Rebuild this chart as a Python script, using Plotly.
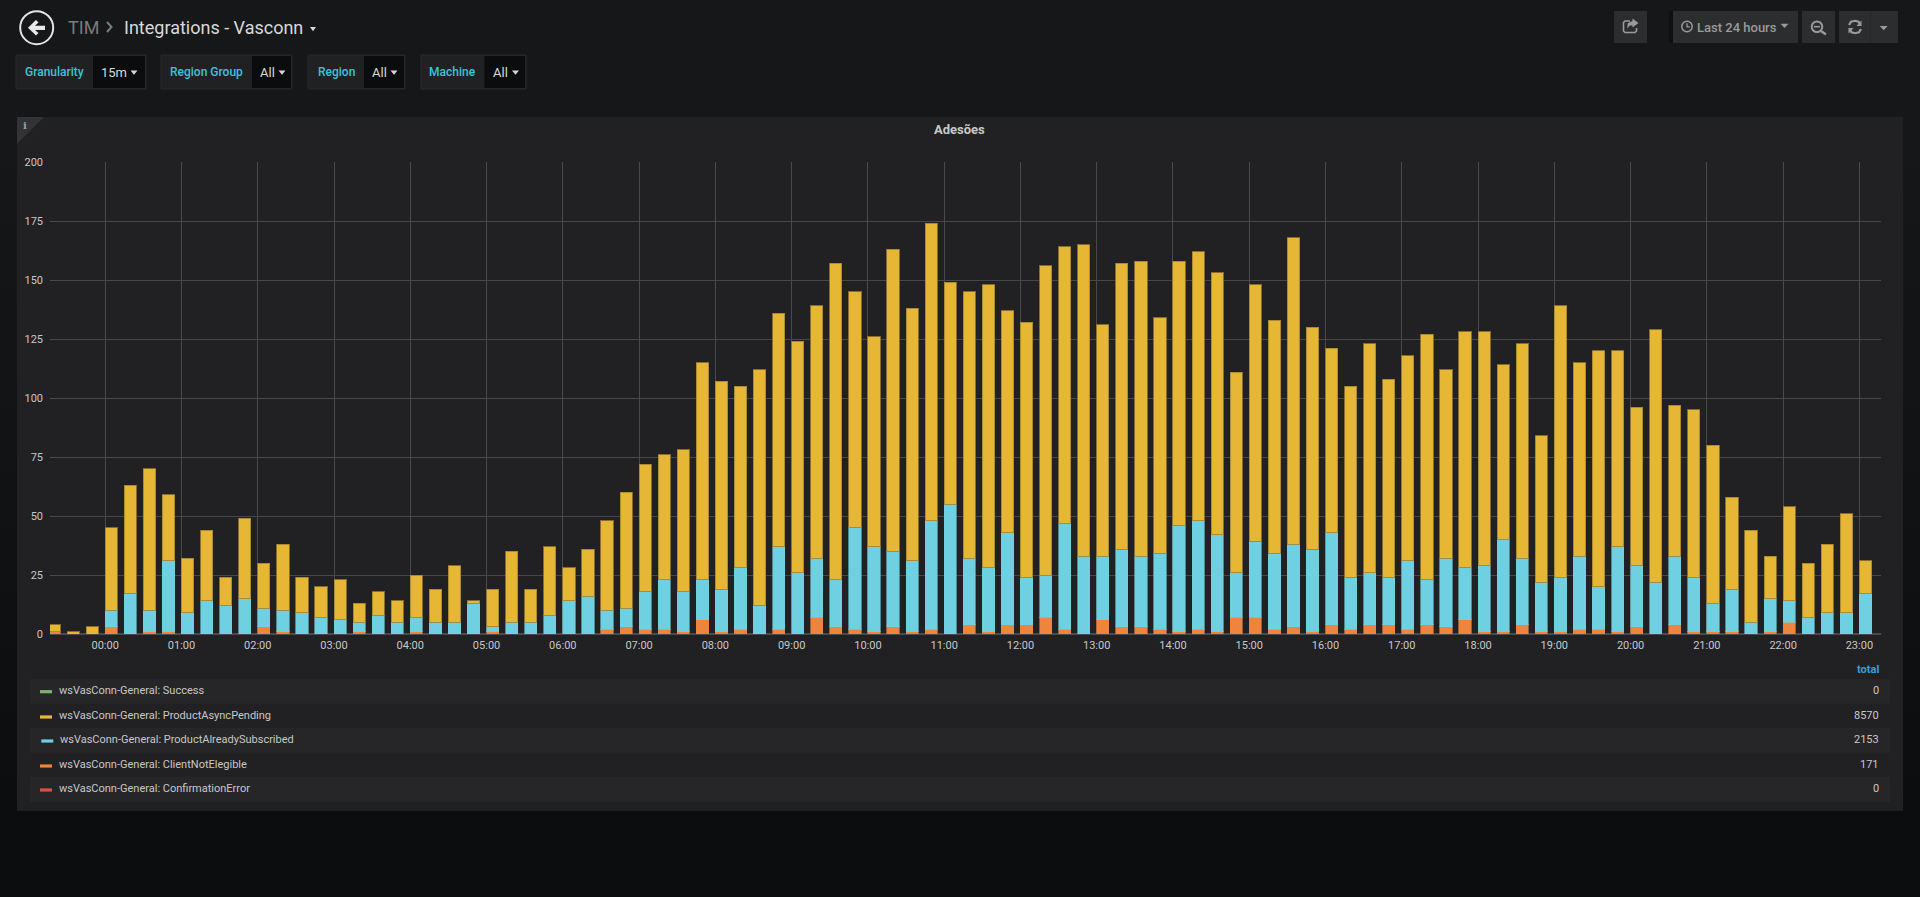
import pandas as pd
import plotly.graph_objects as go

# 15 minute buckets, bar start time, 23:15 the day before up to 23:00
times = pd.date_range("2018-05-09 23:15", "2018-05-10 23:00", freq="15min")

client_not_elegible = [1, 0, 0, 3, 0, 1, 1, 0, 0, 0, 0, 3, 1, 0, 0, 0, 1, 0, 0, 1, 0, 0, 0, 1,
                       0, 0, 0, 0, 0, 2, 3, 2, 2, 1, 6, 1, 2, 0, 2, 0, 7, 3, 2, 1, 3, 1, 2, 0,
                       4, 1, 4, 4, 7, 2, 0, 6, 3, 3, 2, 1, 2, 1, 7, 7, 2, 3, 1, 4, 2, 4, 4, 2,
                       4, 3, 6, 1, 1, 4, 1, 1, 2, 2, 1, 3, 0, 4, 1, 1, 1, 0, 1, 5, 0, 0, 0, 0]
already_subscribed = [0, 0, 0, 7, 17, 9, 30, 9, 14, 12, 15, 8, 9, 9, 7, 6, 4, 8, 5, 6, 5, 5, 13, 2,
                      5, 5, 8, 14, 16, 8, 8, 16, 21, 17, 17, 18, 26, 12, 35, 26, 25, 20, 43, 36, 32, 30, 46, 55,
                      28, 27, 39, 20, 18, 45, 33, 27, 33, 30, 32, 45, 46, 41, 19, 32, 32, 35, 35, 39, 22, 22, 20, 29,
                      19, 29, 22, 28, 39, 28, 21, 23, 31, 18, 36, 26, 22, 29, 23, 12, 18, 5, 14, 9, 7, 9, 9, 17]
async_pending = [3, 1, 3, 35, 46, 60, 28, 23, 30, 12, 34, 19, 28, 15, 13, 17, 8, 10, 9, 18, 14, 24, 1, 16,
                 30, 14, 29, 14, 20, 38, 49, 54, 53, 60, 92, 88, 77, 100, 99, 98, 107, 134, 100, 89, 128, 107, 126, 94,
                 113, 120, 94, 108, 131, 117, 132, 98, 121, 125, 100, 112, 114, 111, 85, 109, 99, 130, 94, 78, 81, 97, 84, 87,
                 104, 80, 100, 99, 74, 91, 62, 115, 82, 100, 83, 67, 107, 64, 71, 67, 39, 39, 18, 40, 23, 29, 42, 14]
success = [0] * len(times)
confirmation_error = [0] * len(times)

legend_names = ["wsVasConn-General: Success", "wsVasConn-General: ProductAsyncPending",
                "wsVasConn-General: ProductAlreadySubscribed", "wsVasConn-General: ClientNotElegible",
                "wsVasConn-General: ConfirmationError"]
legend_colors = ["#7EB26D", "#EAB839", "#6ED0E0", "#EF843C", "#E24D42"]
legend_totals = ["0", "8570", "2153", "171", "0"]
variables = ["Granularity", "Region Group", "Region", "Machine"]
variable_values = ["15m", "All", "All", "All"]

W, H = 1920, 897
L, R, T, B = 50, 1881, 162, 634


def px(x):
    return (x - L) / (R - L)


def py(y):
    return 1 - (y - T) / (B - T)


def pt(x, y):
    return f"{px(x):.5f} {py(y):.5f}"


shapes = []
notes = []


def rect(x0, y0, x1, y1, fill, line=None):
    shapes.append(dict(type="rect", layer="below", xref="paper", yref="paper", x0=px(x0), x1=px(x1), y0=py(y0), y1=py(y1),
                       fillcolor=fill, line=dict(color=line or fill, width=1 if line else 0)))


def path(points, fill=None, line=None, width=1.5, close=False):
    d = "M " + " L ".join(pt(*p) for p in points) + (" Z" if close else "")
    shapes.append(dict(type="path", layer="above", xref="paper", yref="paper", path=d, fillcolor=fill or "rgba(0,0,0,0)",
                       line=dict(color=line or "rgba(0,0,0,0)", width=width if line else 0)))


def circle(cx, cy, r, line, width=1.5):
    shapes.append(dict(type="circle", layer="above", xref="paper", yref="paper", x0=px(cx - r), x1=px(cx + r),
                       y0=py(cy + r), y1=py(cy - r), line=dict(color=line, width=width)))


def text(x, y, s, color, size=11, anchor="left", weight=400, family="Roboto"):
    notes.append(dict(xref="paper", yref="paper", x=px(x), y=py(y), text=s, showarrow=False, xanchor=anchor, yanchor="middle",
                      align=anchor, borderpad=0, font=dict(family=family, size=size, color=color, weight=weight)))


def caret(x, y, color, w=3.5):
    path([(x - w, y - 2), (x + w, y - 2), (x, y + 2.2)], fill=color, close=True)


# panel
rect(17, 117, 1903, 811, "#212124")
path([(17, 117), (44, 117), (17, 144)], fill="#333336", close=True)
text(24.5, 125, "i", "#9fa0a2", size=10, anchor="center", weight=700, family="DejaVu Serif")
text(959, 130, "Adesões", "#c8c9ca", size=13, anchor="center", weight=700)

# header
circle(36.7, 27.7, 16.5, "#e4e4e4", width=2)
path([(28, 27.7), (36, 20), (38.5, 22.5), (35, 25.7), (45, 25.7), (45, 30), (35, 30), (38.5, 33), (36, 35.5)],
     fill="#e8e8e8", close=True)
text(67, 27, "TIM", "#7b7b7b", size=18)
path([(107, 22), (111.5, 27), (107, 32)], line="#7b7b7b", width=2)
text(123, 27, "Integrations - Vasconn", "#d8d9da", size=18)
caret(313, 29, "#d8d9da", w=3)

# template variables
boxes = [(16, 93, 146), (161, 252, 292), (308, 364, 405), (421, 484.5, 526)]
value_x = [100, 259, 371, 492]
caret_x = [134, 282, 394, 515.5]
for i in range(4):
    x0, xm, x1 = boxes[i]
    rect(x0, 55, x1, 89, "#212124", line="#2a2b2d")
    rect(xm, 56, x1 - 1, 88, "#0b0c0e")
    text((x0 + xm) / 2, 72, variables[i], "#33c6d8", size=12, anchor="center", weight=500)
    text(value_x[i], 73, variable_values[i], "#d8d9da", size=13)
    caret(caret_x[i], 72.5, "#d8d9da")

# toolbar
rect(1669, 11, 1673, 43, "#0f1012")
rect(1614, 11, 1647, 43, "#2c2d2f")
rect(1673, 11, 1798, 43, "#2c2d2f")
rect(1802, 11, 1835, 43, "#2c2d2f")
rect(1839, 11, 1898, 43, "#2c2d2f")
rect(1870, 11, 1871, 43, "#262729")
path([(1630, 21), (1625, 21), (1623.5, 22.5), (1623.5, 31), (1625, 32.5), (1635, 32.5), (1636.5, 31), (1636.5, 28)],
     line="#9a9a9a", width=1.6)
path([(1638.5, 23), (1632.5, 18.5), (1632.5, 21), (1628, 23), (1627, 28.5), (1630, 25.5), (1632.5, 25.5), (1632.5, 27.5)],
     fill="#9a9a9a", close=True)
circle(1687, 26.5, 5.2, "#9a9a9a", width=1.5)
path([(1687, 23.2), (1687, 26.8), (1689.8, 26.8)], line="#9a9a9a", width=1.3)
text(1695.5, 27, "Last 24 hours", "#9a9a9a", size=13, weight=500)
caret(1784.5, 25.8, "#9a9a9a", w=4)
circle(1817, 26.7, 5.3, "#9a9a9a", width=2)
path([(1814, 26.7), (1820, 26.7)], line="#9a9a9a", width=1.6)
path([(1821, 31), (1826, 34.5)], line="#9a9a9a", width=2.4)
path([(1849, 25), (1851, 21.8), (1855, 20.8), (1858.5, 21.8), (1860.5, 24.5)], line="#9a9a9a", width=2.2)
path([(1861.5, 20.5), (1861.5, 26), (1856.5, 26)], fill="#9a9a9a", close=True)
path([(1861, 29), (1859, 32.2), (1855, 33.2), (1851.5, 32.2), (1849.5, 29.5)], line="#9a9a9a", width=2.2)
path([(1848.5, 33.5), (1848.5, 28), (1853.5, 28)], fill="#9a9a9a", close=True)
caret(1883.7, 28, "#9a9a9a", w=4)

# legend table
row_y0 = [679, 704, 728, 753, 776.7]
row_y1 = [703.7, 728, 752.7, 776.7, 802]
swatch_y = [691.7, 717, 741, 766, 790]
label_y = [690, 715.3, 739.3, 764, 788]
text(1880, 669.3, "total", "#33a2d6", size=11, anchor="right", weight=700)
for i in range(5):
    if i % 2 == 0:
        rect(30, row_y0[i], 1890, row_y1[i], "#262628")
    dx = 1.3 if i == 2 else 0
    rect(40 + dx, swatch_y[i] - 1.6, 52 + dx, swatch_y[i] + 1.6, legend_colors[i])
    text(58 + dx, label_y[i], legend_names[i], "#c8c8c8", size=11)
    text(1880, label_y[i], legend_totals[i], "#c8c8c8", size=11, anchor="right")

fig = go.Figure()
series = [("ConfirmationError", confirmation_error, "#E24D42", "#E24D42"),
          ("Success", success, "#7EB26D", "#7EB26D"),
          ("ClientNotElegible", client_not_elegible, "#EF843C", "rgba(239,132,60,0.6)"),
          ("ProductAlreadySubscribed", already_subscribed, "#6ED0E0", "rgba(110,208,224,0.6)"),
          ("ProductAsyncPending", async_pending, "#E5B735", "rgba(160,128,50,0.8)")]
for name, values, color, edge in series:
    fig.add_trace(go.Bar(x=times, y=values, name=name, offset=0, width=576000, marker=dict(color=color, line=dict(color=edge, width=1))))

fig.update_layout(width=W, height=H, autosize=False, barmode="stack", showlegend=False,
                  margin=dict(l=L, r=W - R, t=T, b=H - B, pad=0),
                  paper_bgcolor="rgba(0,0,0,0)", plot_bgcolor="rgba(0,0,0,0)",
                  font=dict(family="Roboto", size=11, color="#c8c8c8"), shapes=shapes, annotations=notes)
fig.update_xaxes(type="date", range=["2018-05-09 23:16:34", "2018-05-10 23:17:00"], tick0="2018-05-10 00:00", dtick=3600000,
                 tickformat="%H:%M", showgrid=True, gridcolor="#4a4a4c", gridwidth=1, zeroline=False, showline=False, ticks="",
                 ticklabelstandoff=3)
fig.update_yaxes(range=[0, 200], tick0=0, dtick=25, showgrid=True, gridcolor="#474749", gridwidth=1, zeroline=True,
                 zerolinecolor="#4a4a4c", showline=False, ticks="", ticklabelstandoff=6)

page_css = ("document.body.style.margin='0';document.body.style.overflow='hidden';"
            "document.body.style.background='linear-gradient(#161719 0%, #161719 15%, #0b0c0e 100%)';"
            "document.documentElement.style.height='100%';document.body.style.height='100%';")
fig.write_html("out.html", config={"displayModeBar": False}, post_script=page_css)
